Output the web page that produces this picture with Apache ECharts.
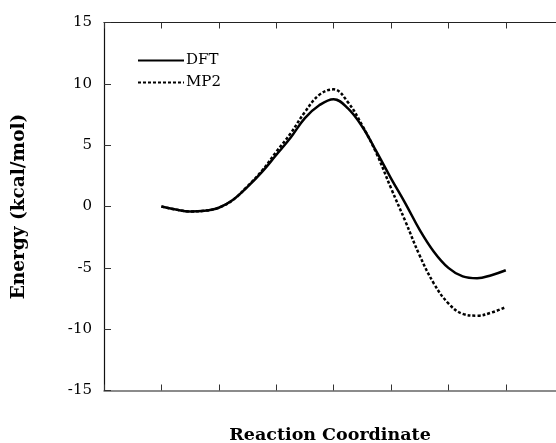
<!DOCTYPE html>
<html>
<head>
<meta charset="utf-8">
<script src="https://cdn.jsdelivr.net/npm/echarts@6/dist/echarts.min.js"></script>
<style>html,body{margin:0;padding:0;background:#fff;}#c{width:556px;height:443px;}</style>
</head>
<body>
<div id="c"></div>
<script>
const reactionCoord = [1.0, 1.25, 1.5, 1.75, 2.0, 2.25, 2.5, 2.75, 3.0, 3.25, 3.5, 3.75, 4.0, 4.25, 4.5, 4.75, 5.0, 5.25, 5.5, 5.75, 6.0, 6.25, 6.5, 6.75, 7.0];
const dftEnergy = [0.0, -0.25, -0.4, -0.35, -0.1, 0.55, 1.6, 2.8, 4.2, 5.6, 7.2, 8.25, 8.75, 8.0, 6.5, 4.45, 2.3, 0.26, -1.9, -3.7, -5.0, -5.7, -5.85, -5.6, -5.2];
const mp2Energy = [0.0, -0.25, -0.4, -0.35, -0.1, 0.55, 1.65, 2.9, 4.45, 5.95, 7.7, 9.1, 9.55, 8.5, 6.6, 4.3, 1.5, -1.2, -4.0, -6.3, -7.9, -8.75, -8.9, -8.65, -8.2];
const xTicks = [0, 1, 2, 3, 4, 5, 6, 7];
const yTicks = [-15, -10, -5, 0, 5, 10, 15];

const serif = '"DejaVu Serif", "Liberation Serif", serif';
const chart = echarts.init(document.getElementById('c'));
const xBase = {
  type: 'value', min: 0, max: 7.875,
  axisLabel: { show: false }, splitLine: { show: false }
};
chart.setOption({
  animation: false,
  backgroundColor: '#fff',
  grid: { left: 104, top: 22.5, bottom: 52.5, right: 0, containLabel: false, outerBoundsMode: 'none' },
  legend: {
    orient: 'vertical', left: 137, top: 53, padding: 0, itemWidth: 46, itemHeight: 14, itemGap: 7,
    itemStyle: { color: 'transparent', borderWidth: 0, opacity: 0 },
    textStyle: { fontFamily: serif, fontSize: 15, color: '#000', padding: [0, 0, 0, -3] },
    data: ['DFT', 'MP2']
  },
  xAxis: [Object.assign({}, xBase, {
    position: 'bottom',
    name: 'Reaction Coordinate', nameLocation: 'middle', nameGap: 36,
    nameTextStyle: { fontFamily: serif, fontSize: 17.5, fontWeight: 'bold', color: '#000' },
    axisLine: { show: true, onZero: false, lineStyle: { color: '#666', width: 1.5 } },
    axisTick: { show: true, inside: true, length: 6, customValues: xTicks, lineStyle: { color: '#333', width: 1 } }
  }), Object.assign({}, xBase, {
    position: 'top',
    axisLine: { show: true, onZero: false, lineStyle: { color: '#222', width: 1.2 } },
    axisTick: { show: true, inside: true, length: 6, customValues: xTicks, lineStyle: { color: '#333', width: 1 } }
  })],
  yAxis: {
    type: 'value', min: -15, max: 15, interval: 5,
    name: 'Energy (kcal/mol)', nameLocation: 'middle', nameGap: 75, nameRotate: 90,
    nameTextStyle: { fontFamily: serif, fontSize: 18.5, fontWeight: 'bold', color: '#000' },
    axisLine: { show: true, onZero: false, lineStyle: { color: '#111', width: 1.2 } },
    axisTick: { show: true, inside: true, length: 7, lineStyle: { color: '#333', width: 1 } },
    axisLabel: { fontFamily: serif, fontSize: 15, color: '#000', margin: 12,
      formatter: v => yTicks.includes(v) ? String(v) : '' },
    splitLine: { show: false }
  },
  series: [{
    name: 'DFT', type: 'line', smooth: 0.4, symbol: 'none',
    lineStyle: { color: '#000', width: 2.5, type: 'solid' },
    itemStyle: { color: '#000' },
    data: reactionCoord.map((x, i) => [x, dftEnergy[i]])
  }, {
    name: 'MP2', type: 'line', smooth: 0.4, symbol: 'none',
    lineStyle: { color: '#000', width: 2.5, type: [3, 2] },
    itemStyle: { color: '#000' },
    data: reactionCoord.map((x, i) => [x, mp2Energy[i]])
  }]
});
</script>
</body>
</html>
